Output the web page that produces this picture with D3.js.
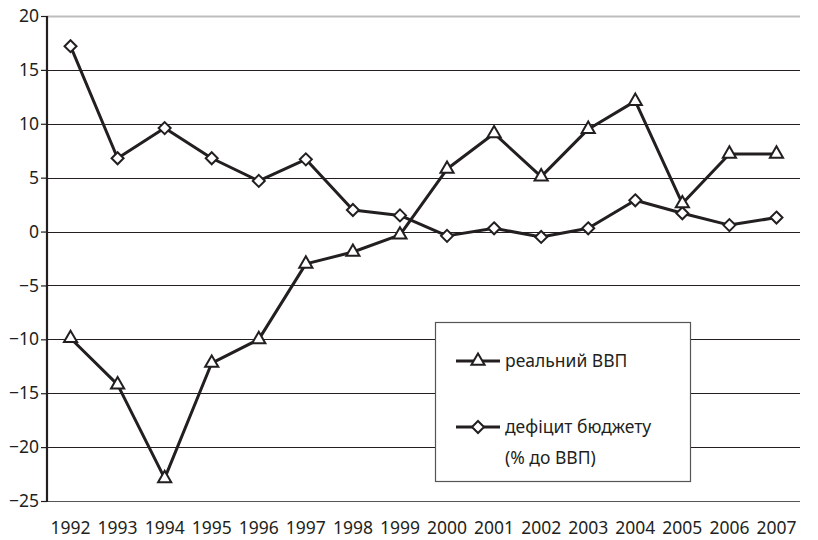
<!DOCTYPE html>
<html>
<head>
<meta charset="utf-8">
<script src="https://cdn.jsdelivr.net/npm/d3@7"></script>
<style>
  body { margin: 0; background: #fff; }
  svg { display: block; font-family: "Noto Sans", sans-serif; }
</style>
</head>
<body>
<div id="chart"></div>
<script>
// Data
const years = ['1992','1993','1994','1995','1996','1997','1998','1999',
               '2000','2001','2002','2003','2004','2005','2006','2007'];
const gdp = [-9.9, -14.2, -22.9, -12.2, -10.0, -3.0, -1.9, -0.3,
             5.8, 9.1, 5.1, 9.5, 12.1, 2.6, 7.2, 7.2];
const deficit = [17.2, 6.8, 9.6, 6.8, 4.7, 6.7, 2.0, 1.5,
                 -0.4, 0.3, -0.5, 0.3, 2.9, 1.7, 0.6, 1.3];
const yTicks = [20, 15, 10, 5, 0, -5, -10, -15, -20, -25];
const legendLabels = ['реальний ВВП', 'дефіцит бюджету', '(% до ВВП)'];

const width = 818, height = 540;
const margin = { top: 16, right: 18, bottom: 39, left: 47 };
const ink = '#231f20';

const svg = d3.select('#chart').append('svg')
    .attr('width', width)
    .attr('height', height);

const x = d3.scaleBand()
    .domain(years)
    .range([margin.left, width - margin.right]);

const y = d3.scaleLinear()
    .domain([-25, 20])
    .range([height - margin.bottom, margin.top]);

const cx = d => x(d) + x.bandwidth() / 2;

// Gridlines
svg.append('g')
    .selectAll('line')
    .data(yTicks)
    .join('line')
    .attr('x1', margin.left)
    .attr('x2', width - margin.right)
    .attr('y1', d => Math.round(y(d)) + 0.5)
    .attr('y2', d => Math.round(y(d)) + 0.5)
    .attr('stroke', d => d === 20 ? '#bdbdbd' : (d === -25 ? '#555' : ink))
    .attr('stroke-width', d => d === 20 ? 2 : 1.2);

// Y axis
const yAxis = svg.append('g')
    .attr('transform', `translate(${margin.left},0)`)
    .call(d3.axisLeft(y).tickValues(yTicks).tickSize(6).tickPadding(2)
        .tickFormat(d => d < 0 ? '\u2212' + Math.abs(d) : d));
yAxis.select('.domain').remove();
yAxis.selectAll('.tick line').attr('stroke', ink).attr('stroke-width', 1.2);
yAxis.selectAll('.tick text')
    .attr('fill', ink)
    .style('font-size', '17.5px')
    .style('font-family', '"Noto Sans", sans-serif');
svg.append('line')
    .attr('x1', margin.left).attr('x2', margin.left)
    .attr('y1', y(20)).attr('y2', y(-25) + 1)
    .attr('stroke', ink)
    .attr('stroke-width', 2.2);

// X labels
svg.append('g')
    .selectAll('text')
    .data(years)
    .join('text')
    .attr('x', d => cx(d))
    .attr('y', 534)
    .attr('text-anchor', 'middle')
    .attr('fill', ink)
    .style('font-size', '17.5px')
    .text(d => d);

const line = d3.line()
    .x((d, i) => cx(years[i]))
    .y(d => y(d));

const triangle = d3.symbol().type(d3.symbolTriangle).size(75);
const diamond = 'M0,-6L6,0L0,6L-6,0Z';

function drawSeries(values, marker) {
    svg.append('path')
        .datum(values)
        .attr('fill', 'none')
        .attr('stroke', ink)
        .attr('stroke-width', 3)
        .attr('stroke-linejoin', 'round')
        .attr('d', line);
    svg.append('g')
        .selectAll('path')
        .data(values)
        .join('path')
        .attr('transform', (d, i) => `translate(${cx(years[i])},${y(d)})`)
        .attr('d', marker)
        .attr('fill', '#fff')
        .attr('stroke', ink)
        .attr('stroke-width', 2);
}

drawSeries(deficit, diamond);
drawSeries(gdp, triangle());

// Legend
const legend = svg.append('g');
legend.append('rect')
    .attr('x', 435.5).attr('y', 322.5)
    .attr('width', 255).attr('height', 159)
    .attr('fill', '#fff')
    .attr('stroke', '#555')
    .attr('stroke-width', 1.2);

const legendRows = [
    { y: 361, marker: triangle() },
    { y: 427, marker: diamond }
];
legendRows.forEach((r, i) => {
    legend.append('line')
        .attr('x1', 456).attr('x2', 500)
        .attr('y1', r.y).attr('y2', r.y)
        .attr('stroke', ink).attr('stroke-width', 3);
    legend.append('path')
        .attr('transform', `translate(478,${r.y})`)
        .attr('d', r.marker)
        .attr('fill', '#fff')
        .attr('stroke', ink)
        .attr('stroke-width', 2);
});
legend.selectAll('text')
    .data(legendLabels)
    .join('text')
    .attr('x', 505)
    .attr('y', (d, i) => [367, 433, 464][i])
    .attr('fill', ink)
    .style('font-size', '17.5px')
    .text(d => d);
</script>
</body>
</html>
